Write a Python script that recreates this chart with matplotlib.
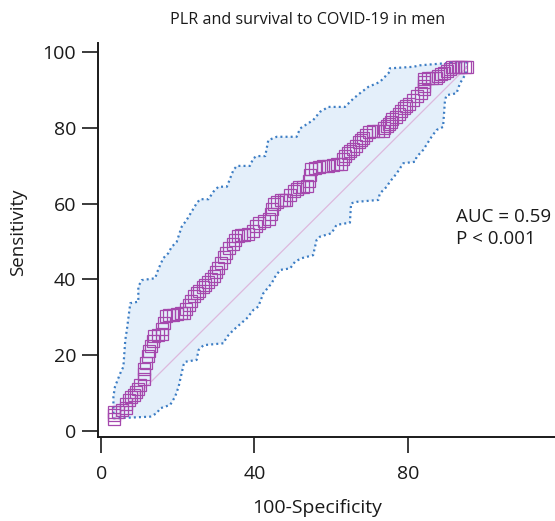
import matplotlib
matplotlib.use("Agg")
import matplotlib.pyplot as plt

plt.rcParams['font.family'] = ['Open Sans', 'DejaVu Sans']

title = "PLR and survival to COVID-19 in men"
xlabel = "100-Specificity"
ylabel = "Sensitivity"
x_ticks = [0, 40, 80]
y_ticks = [0, 20, 40, 60, 80, 100]
annotation = "AUC = 0.59\nP < 0.001"

# ROC curve points (100-Specificity, Sensitivity)
roc_x = [3.4, 3.4, 3.4, 4.5, 5.5, 6.5, 6.5, 7.2, 7.8, 8.5, 9.1, 9.6, 10.2,
         11.2, 11.2, 11.2, 11.6, 12.1, 12.5, 13.0, 13.4, 13.8, 14.8, 16.0,
         16.0, 16.4, 16.9, 17.8, 18.8, 19.8, 20.8, 21.7, 22.2, 22.8, 23.4,
         24.2, 25.0, 25.6, 26.5, 27.2, 27.8, 28.6, 29.5, 29.9, 30.4, 31.2,
         32.1, 32.6, 33.4, 34.3, 35.0, 35.6, 36.4, 37.3, 38.2, 39.5, 40.3,
         41.2, 42.5, 43.8, 44.2, 44.7, 45.1, 46.0, 46.9, 47.6, 48.2, 49.2,
         50.3, 51.0, 51.6, 52.7, 53.8, 54.2, 54.5, 54.7, 55.8, 56.9, 58.0,
         59.2, 60.4, 61.5, 62.5, 63.0, 63.6, 64.3, 65.0, 65.6, 66.5, 67.3,
         67.8, 68.2, 69.0, 69.9, 71.0, 72.2, 73.4, 73.8, 74.5, 75.1, 75.5,
         76.0, 76.8, 77.7, 78.3, 79.0, 79.6, 80.3, 81.4, 82.5, 83.4, 84.2,
         84.2, 84.2, 84.2, 85.2, 86.2, 87.3, 88.0, 88.6, 89.5, 90.3, 91.0,
         91.6, 92.4, 93.2, 94.0, 94.8, 95.5]
roc_y = [3.2, 4.1, 5.0, 5.0, 5.5, 5.9, 7.0, 8.0, 8.8, 9.5, 10.1, 11.0, 12.0,
         13.6, 15.0, 16.3, 17.8, 19.8, 21.0, 22.4, 23.8, 25.1, 25.3, 25.5,
         26.8, 28.5, 30.4, 30.5, 30.7, 30.8, 31.0, 31.2, 32.2, 33.3, 34.3,
         35.5, 36.3, 37.0, 38.0, 38.6, 39.2, 40.0, 40.9, 42.0, 43.1, 44.4,
         45.8, 47.0, 48.2, 49.3, 50.5, 51.5, 51.7, 51.8, 52.0, 52.8, 54.0,
         55.0, 55.5, 55.9, 57.2, 58.6, 59.9, 60.5, 61.0, 61.0, 61.0, 62.3,
         63.4, 63.9, 64.3, 64.5, 64.7, 66.0, 67.5, 69.3, 69.5, 69.8, 70.0,
         70.1, 70.3, 70.4, 70.5, 71.8, 72.6, 73.4, 73.9, 74.4, 75.3, 76.2,
         76.8, 77.5, 78.2, 79.0, 79.1, 79.2, 79.3, 80.1, 80.5, 81.0, 81.6,
         82.3, 83.0, 83.7, 84.5, 85.4, 85.8, 86.3, 87.4, 88.5, 89.4, 90.3,
         91.2, 92.2, 93.1, 93.2, 93.3, 93.3, 93.8, 94.2, 94.6, 95.1, 95.7,
         96.2, 96.2, 96.2, 96.2, 96.2, 96.2]

# 95% confidence band: upper bound
ci_up_x = [3.2, 3.2, 3.6, 5.0, 5.8, 6.3, 6.7, 7.6, 9.7, 9.7, 10.6, 14.1,
           14.5, 15.4, 16.2, 17.5, 18.4, 19.7, 21.0, 22.3, 24.9, 25.8, 28.0,
           29.3, 30.6, 32.8, 34.5, 35.4, 38.8, 39.7, 40.6, 42.8, 43.6, 45.8,
           51.0, 51.9, 55.3, 57.1, 59.3, 63.6, 65.8, 67.5, 69.7, 72.7, 75.3,
           75.3, 81.4, 83.2, 89.2, 94.0, 95.5]
ci_up_y = [4.5, 9.0, 11.6, 15.2, 16.9, 24.0, 26.6, 33.7, 34.1, 38.1, 39.8,
           40.3, 41.6, 43.8, 45.6, 46.9, 48.6, 49.9, 53.9, 55.7, 60.1, 61.2,
           61.2, 63.2, 64.5, 64.5, 68.9, 70.0, 70.0, 72.0, 72.6, 72.6, 76.8,
           77.7, 77.7, 79.9, 82.1, 84.3, 85.6, 85.6, 87.8, 89.2, 90.9, 92.2,
           94.9, 95.8, 96.2, 96.6, 97.1, 97.4, 97.4]

# 95% confidence band: lower bound
ci_lo_x = [3.2, 4.5, 12.8, 14.5, 15.4, 18.0, 19.3, 20.2, 21.5, 21.9, 24.9,
           25.4, 26.7, 31.9, 32.8, 34.5, 38.0, 39.7, 41.0, 42.3, 44.5, 45.4,
           46.7, 49.3, 50.6, 52.3, 55.3, 56.2, 57.1, 60.1, 61.4, 64.9, 65.2,
           66.7, 72.3, 72.7, 74.5, 75.3, 77.1, 78.8, 81.9, 82.3, 84.0, 86.2,
           87.5, 89.2, 89.7, 90.1, 92.7, 93.6, 94.9, 95.3, 95.5]
ci_lo_y = [3.3, 3.3, 3.7, 4.6, 5.9, 6.8, 9.0, 11.6, 17.4, 18.2, 18.7, 21.3,
           22.6, 23.1, 24.8, 26.6, 29.7, 31.9, 32.8, 36.3, 39.0, 40.7, 42.5,
           42.9, 44.7, 45.6, 46.4, 50.4, 51.3, 52.2, 54.4, 55.0, 60.1, 60.5,
           61.0, 62.7, 64.5, 65.8, 68.0, 70.7, 71.1, 72.4, 74.2, 77.7, 79.5,
           80.3, 87.4, 88.7, 89.2, 91.8, 94.0, 94.9, 97.4]

purple = '#A548AD'
blue = '#3C7DC4'
fill_c = '#E4EFFA'

fig = plt.figure(figsize=(5.55, 5.21), dpi=100)
ax = fig.add_axes([97.7 / 555, 1 - 436.7 / 521, 1 - 97.7 / 555, (436.7 - 43) / 521])

poly_x = ci_up_x + ci_lo_x[::-1]
poly_y = ci_up_y + ci_lo_y[::-1]
ax.fill(poly_x, poly_y, color=fill_c, lw=0, zorder=1)
ax.plot(ci_up_x, ci_up_y, color=blue, lw=1.6, ls=(0, (0.9, 1.4)), zorder=2)
ax.plot(ci_lo_x, ci_lo_y, color=blue, lw=1.6, ls=(0, (0.9, 1.4)), zorder=2)

ax.plot([roc_x[0], roc_x[-1]], [roc_y[0], roc_y[-1]], color='#DDB8DD', lw=0.9, zorder=3)

ax.plot(roc_x, roc_y, ls='none', marker='s', markersize=8.4,
        markerfacecolor='none', markeredgecolor=purple, markeredgewidth=0.9, zorder=4)

ax.set_xlim(-0.9, 118.4)
ax.set_ylim(-1.6, 102.5)
ax.set_xticks(x_ticks)
ax.set_yticks(y_ticks)
ax.tick_params(direction='out', length=11.5, width=1.2, labelsize=14, colors='#1a1a1a', pad=4)
ax.tick_params(axis='x', pad=9)
for s in ['top', 'right']:
    ax.spines[s].set_visible(False)
for s in ['left', 'bottom']:
    ax.spines[s].set_linewidth(1.4)
    ax.spines[s].set_color('#1a1a1a')

fig.text(308 / 555, 1 - 20 / 521, title, ha='center', va='center', fontsize=11.6, color='#1a1a1a')
fig.text(317 / 555, 1 - 508 / 521, xlabel, ha='center', va='center', fontsize=14, color='#1a1a1a')
fig.text(18 / 555, 1 - 232 / 521, ylabel, ha='center', va='center', rotation=90, fontsize=13.5, color='#1a1a1a')
fig.text(456 / 555, 1 - 228 / 521, annotation, ha='left', va='center', fontsize=13.5,
         color='#1a1a1a', linespacing=1.25)

fig.savefig('out.png', dpi=100)
